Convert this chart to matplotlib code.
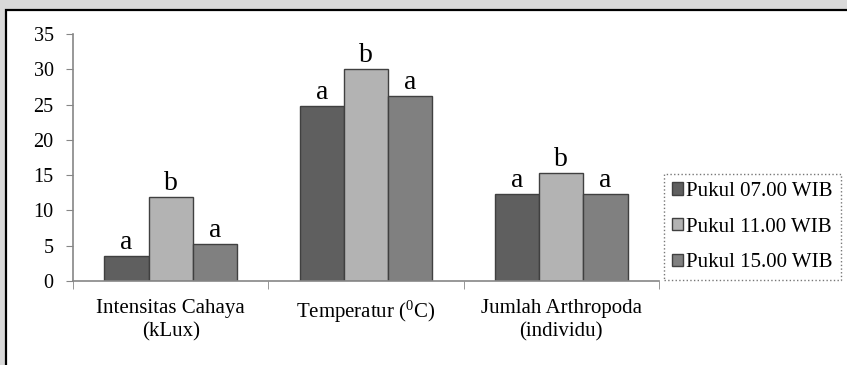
import numpy as np
import matplotlib
matplotlib.use("Agg")
import matplotlib.pyplot as plt
from matplotlib.patches import Rectangle

plt.rcParams['font.family'] = ['Liberation Serif', 'DejaVu Serif']
plt.rcParams['mathtext.fontset'] = 'custom'
plt.rcParams['mathtext.rm'] = 'Liberation Serif'

# Data
categories = ['Intensitas Cahaya\n(kLux)', 'Temperatur ($\\mathregular{^0}$C)',
              'Jumlah Arthropoda\n(individu)']
series_names = ['Pukul 07.00 WIB', 'Pukul 11.00 WIB', 'Pukul 15.00 WIB']
pukul_07 = [3.5, 24.8, 12.3]
pukul_11 = [11.9, 30.0, 15.3]
pukul_15 = [5.3, 26.2, 12.3]
letters_07 = ['a', 'a', 'a']
letters_11 = ['b', 'b', 'b']
letters_15 = ['a', 'a', 'a']
colors = ['#5f5f5f', '#b3b3b3', '#808080']

fig = plt.figure(figsize=(8.47, 3.65), dpi=100, facecolor='#d9d9d9')

# chart area frame (white box with black border), drawn behind the axes
fig.patches.append(Rectangle((6 / 847, -0.05), 1.0, 1.05 - 10 / 365,
                             transform=fig.transFigure, facecolor='white',
                             edgecolor='black', linewidth=1.6, zorder=-1))

ax = fig.add_axes([73 / 847, 84 / 365, (659 - 73) / 847, (281 - 34) / 365])
ax.set_facecolor('none')

x = np.arange(len(categories))
width = 0.226
all_series = [pukul_07, pukul_11, pukul_15]
all_letters = [letters_07, letters_11, letters_15]
for i, (vals, lets) in enumerate(zip(all_series, all_letters)):
    pos = x + (i - 1) * width
    ax.bar(pos, vals, width, color=colors[i], edgecolor='#404040',
           linewidth=1.0, label=series_names[i], zorder=2)
    for p, v, t in zip(pos, vals, lets):
        ax.text(p, v + 0.15, t, ha='center', va='bottom', fontsize=20)

ax.set_xlim(-0.5, 2.5)
ax.set_ylim(0, 35)
ax.set_yticks(range(0, 36, 5))
ax.tick_params(axis='y', labelsize=14.5, length=5, color='#868686', pad=9)

ax.set_xticks(x)
ax.set_xticklabels(categories, fontsize=15, linespacing=1.3)
ax.tick_params(axis='x', length=0, pad=13)
ax.set_xticks([-0.5, 0.5, 1.5, 2.5], minor=True)
ax.tick_params(axis='x', which='minor', length=6, color='#868686')

for s in ['top', 'right']:
    ax.spines[s].set_visible(False)
for s in ['left', 'bottom']:
    ax.spines[s].set_color('#868686')
    ax.spines[s].set_linewidth(1.2)

leg = ax.legend(loc='upper left', bbox_to_anchor=(664 / 847, 1 - 174 / 365),
                bbox_transform=fig.transFigure, fontsize=15, frameon=True,
                fancybox=False, handlelength=0.55, handleheight=0.55,
                handletextpad=0.15, labelspacing=0.8, borderpad=0.38,
                borderaxespad=0)
leg.get_frame().set_edgecolor('#555555')
leg.get_frame().set_linestyle(':')
leg.get_frame().set_linewidth(1.0)

fig.savefig('out.png', dpi=100, facecolor=fig.get_facecolor())
